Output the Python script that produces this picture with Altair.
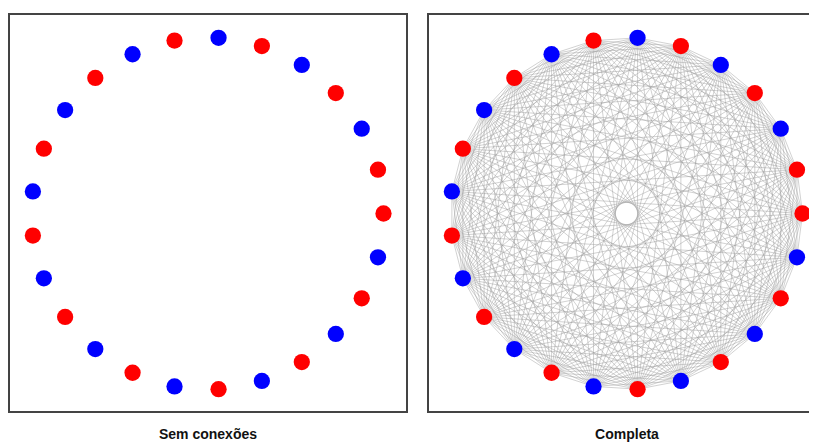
import numpy as np
import pandas as pd
import altair as alt

# Graph data: 25 nodes on a circle, colour of each node (index 0 = rightmost, counter-clockwise)
node_colors = ["vermelho"] + ["vermelho", "azul"] * 12
panel_titles = ["Sem conexões", "Completa"]
color_domain = ["vermelho", "azul"]
color_range = ["#ff0000", "#0000ff"]

n = len(node_colors)
idx = np.arange(n)
nodes = pd.DataFrame({
    "no": idx,
    "cor": node_colors,
    "x": np.cos(2 * np.pi * idx / n),
    "y": np.sin(2 * np.pi * idx / n),
})

# complete graph: every pair of nodes
pairs = [(i, j) for i in range(n) for j in range(i + 1, n)]
edges = pd.DataFrame({
    "x": [nodes.x[i] for i, j in pairs],
    "y": [nodes.y[i] for i, j in pairs],
    "x2": [nodes.x[j] for i, j in pairs],
    "y2": [nodes.y[j] for i, j in pairs],
})

R = 176.0
H = 400
yscale = alt.Scale(domain=[-199.5 / R, 200.5 / R], nice=False, zero=False)


def panel(title, width, with_edges, dx):
    full = width == 400
    xscale = alt.Scale(domain=[-199.5 / R, (width - 199.5) / R], nice=False, zero=False)
    if full:
        frame = alt.Chart(nodes).mark_rect(
            fill=None, stroke="#444444", strokeWidth=1.6
        ).encode(
            x=alt.value(0.8), x2=alt.value(width - 0.8),
            y=alt.value(0.8), y2=alt.value(H - 0.8),
        )
    else:
        frame = alt.Chart(nodes).mark_rect(
            fill=None, stroke="#444444", strokeWidth=1.6, clip=True
        ).encode(
            x=alt.value(0.8), x2=alt.value(width + 40),
            y=alt.value(0.8), y2=alt.value(H - 0.8),
        )
    pts = alt.Chart(nodes).mark_circle(size=265, opacity=1, clip=not full).encode(
        x=alt.X("x:Q", scale=xscale, axis=None),
        y=alt.Y("y:Q", scale=yscale, axis=None),
        color=alt.Color("cor:N", scale=alt.Scale(domain=color_domain, range=color_range), legend=None),
    )
    layers = []
    if with_edges:
        lines = alt.Chart(edges).mark_rule(stroke="#9a9a9a", strokeWidth=0.6, opacity=0.75).encode(
            x=alt.X("x:Q", scale=xscale, axis=None),
            y=alt.Y("y:Q", scale=yscale, axis=None),
            x2="x2:Q", y2="y2:Q",
        )
        layers.append(lines)
    layers += [pts, frame]
    return alt.layer(*layers).properties(
        width=width, height=H,
        title=alt.TitleParams(
            title, orient="bottom", fontSize=14, fontWeight="bold",
            font="Liberation Sans", color="#111111", offset=15, dx=dx,
        ),
    )


left = panel(panel_titles[0], 400, False, 0)
right = panel(panel_titles[1], 382, True, 9)

chart = alt.hconcat(left, right, spacing=19).properties(
    padding={"left": 0, "top": 5, "right": 0, "bottom": 0}
).configure_view(stroke=None)

chart.save("out.html", embed_options={"renderer": "svg", "actions": False})
